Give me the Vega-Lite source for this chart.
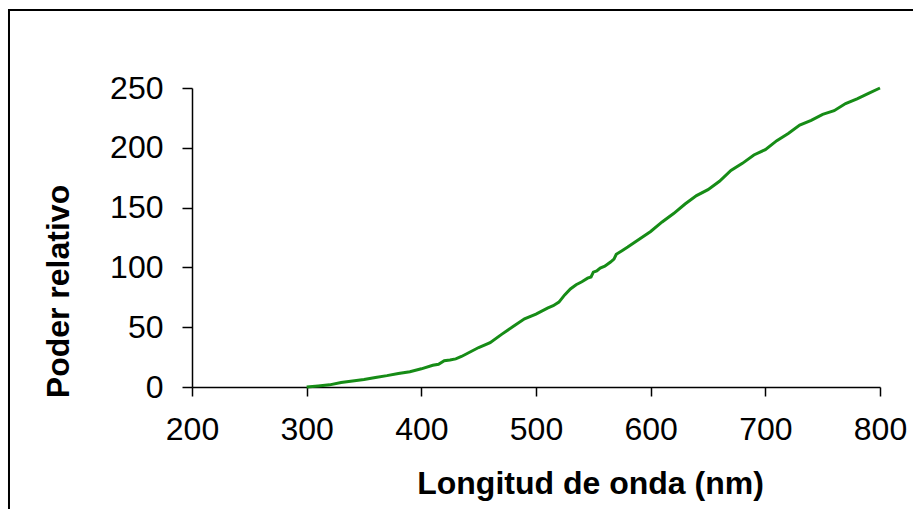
{
  "$schema": "https://vega.github.io/schema/vega-lite/v6.json",
  "width": 688,
  "height": 299,
  "autosize": {"type": "none"},
  "padding": {"left": 192, "top": 88, "right": 33, "bottom": 122},
  "background": "white",
  "config": {"view": {"stroke": null}, "font": "Liberation Sans"},
  "layer": [
    {
      "data": {"values": [
        {"wavelength": 300, "power": 0},
        {"wavelength": 310, "power": 0.8},
        {"wavelength": 320, "power": 1.8},
        {"wavelength": 330, "power": 3.8},
        {"wavelength": 340, "power": 5},
        {"wavelength": 350, "power": 6.3},
        {"wavelength": 360, "power": 8},
        {"wavelength": 370, "power": 9.5},
        {"wavelength": 380, "power": 11.3},
        {"wavelength": 390, "power": 12.8},
        {"wavelength": 400, "power": 15.2},
        {"wavelength": 410, "power": 18.2},
        {"wavelength": 415, "power": 19},
        {"wavelength": 420, "power": 22},
        {"wavelength": 425, "power": 22.5},
        {"wavelength": 430, "power": 23.5},
        {"wavelength": 435, "power": 25.5},
        {"wavelength": 440, "power": 28},
        {"wavelength": 450, "power": 33},
        {"wavelength": 460, "power": 37},
        {"wavelength": 470, "power": 44},
        {"wavelength": 480, "power": 50.5},
        {"wavelength": 490, "power": 57},
        {"wavelength": 500, "power": 61},
        {"wavelength": 510, "power": 66},
        {"wavelength": 515, "power": 68},
        {"wavelength": 520, "power": 71},
        {"wavelength": 525, "power": 77},
        {"wavelength": 530, "power": 82},
        {"wavelength": 535, "power": 85.5},
        {"wavelength": 540, "power": 88},
        {"wavelength": 545, "power": 91},
        {"wavelength": 548, "power": 92},
        {"wavelength": 550, "power": 96},
        {"wavelength": 553, "power": 97},
        {"wavelength": 556, "power": 99.5},
        {"wavelength": 560, "power": 101},
        {"wavelength": 565, "power": 104.5},
        {"wavelength": 568, "power": 107},
        {"wavelength": 570, "power": 111},
        {"wavelength": 575, "power": 114},
        {"wavelength": 580, "power": 117},
        {"wavelength": 590, "power": 123.5},
        {"wavelength": 600, "power": 130},
        {"wavelength": 610, "power": 138},
        {"wavelength": 620, "power": 145},
        {"wavelength": 630, "power": 153},
        {"wavelength": 640, "power": 160},
        {"wavelength": 650, "power": 165},
        {"wavelength": 660, "power": 172},
        {"wavelength": 670, "power": 181},
        {"wavelength": 680, "power": 187},
        {"wavelength": 690, "power": 194},
        {"wavelength": 700, "power": 198.5},
        {"wavelength": 710, "power": 206},
        {"wavelength": 720, "power": 212},
        {"wavelength": 730, "power": 219},
        {"wavelength": 740, "power": 223},
        {"wavelength": 750, "power": 228},
        {"wavelength": 760, "power": 231},
        {"wavelength": 770, "power": 237},
        {"wavelength": 780, "power": 241},
        {"wavelength": 790, "power": 245.5},
        {"wavelength": 800, "power": 250}
      ]},
      "mark": {"type": "line", "color": "#168c16", "strokeWidth": 3, "clip": false},
      "encoding": {
        "x": {
          "field": "wavelength", "type": "quantitative",
          "scale": {"domain": [200, 800], "nice": false, "zero": false},
          "axis": {
            "title": "Longitud de onda (nm)",
            "values": [200, 300, 400, 500, 600, 700, 800],
            "grid": false, "tickSize": 9, "labelPadding": 18,
            "labelFontSize": 32, "labelColor": "#000", "labelFont": "Liberation Sans",
            "labelFlush": false, "labelOverlap": false,
            "domainColor": "#000", "tickColor": "#000", "domainWidth": 1.5, "tickWidth": 1.5,
            "titleFontSize": 32, "titleFontWeight": "bold", "titleColor": "#000", "titleFont": "Liberation Sans",
            "titleX": 398, "titleY": 106, "titleBaseline": "alphabetic"
          }
        },
        "y": {
          "field": "power", "type": "quantitative",
          "scale": {"domain": [0, 250], "nice": false},
          "axis": {
            "title": "Poder relativo",
            "values": [0, 50, 100, 150, 200, 250],
            "grid": false, "tickSize": 10, "labelPadding": 19,
            "labelFontSize": 32, "labelColor": "#000", "labelFont": "Liberation Sans",
            "labelFlush": false, "labelOverlap": false,
            "domainColor": "#000", "tickColor": "#000", "domainWidth": 1.5, "tickWidth": 1.5,
            "titleFontSize": 32, "titleFontWeight": "bold", "titleColor": "#000", "titleFont": "Liberation Sans",
            "titleX": -124, "titleY": 203, "titleBaseline": "alphabetic", "titleAngle": -90
          }
        }
      }
    },
    {
      "data": {"values": [{}]},
      "mark": {"type": "rect", "fill": null, "stroke": "#000", "strokeWidth": 2, "clip": false},
      "encoding": {
        "x": {"datum": 40.4, "type": "quantitative"},
        "x2": {"datum": 950},
        "y": {"datum": 315.2, "type": "quantitative"},
        "y2": {"datum": -150}
      }
    }
  ]
}
